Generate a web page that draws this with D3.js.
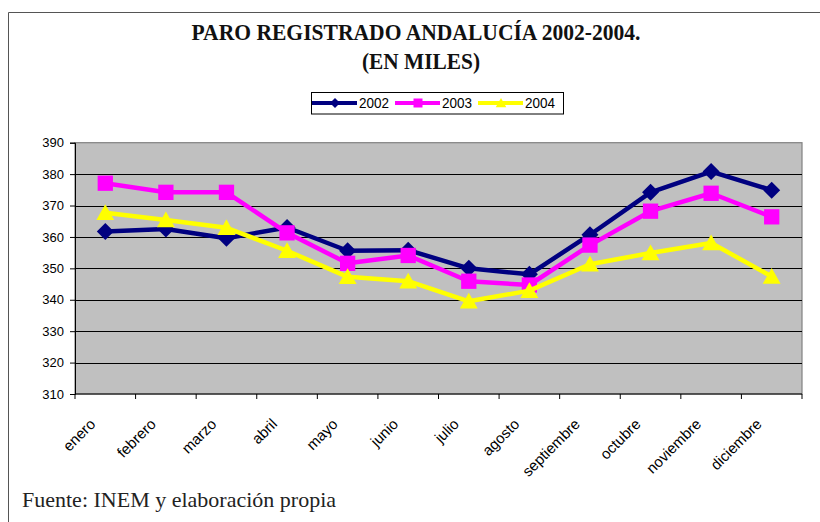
<!DOCTYPE html>
<html>
<head>
<meta charset="utf-8">
<script src="https://cdn.jsdelivr.net/npm/d3@7"></script>
<style>
  body { margin: 0; background: #fff; }
  svg { display: block; }
</style>
</head>
<body>
<div id="chart"></div>
<script>
var width = 820;
var height = 522;

var months = ["enero", "febrero", "marzo", "abril", "mayo", "junio", "julio",
    "agosto", "septiembre", "octubre", "noviembre", "diciembre"];
var years = ["2002", "2003", "2004"];
var paro2002 = [361.7, 362.5, 359.6, 363.0, 355.6, 355.8, 350.0, 348.1, 360.7, 374.2, 380.8, 374.9];
var paro2003 = [377.1, 374.2, 374.2, 361.3, 351.6, 354.1, 345.9, 344.7, 357.4, 368.2, 373.9, 366.4];
var paro2004 = [367.7, 365.4, 362.9, 355.6, 347.3, 345.9, 339.5, 342.9, 351.3, 354.9, 358.1, 347.4];
var yTicks = [310, 320, 330, 340, 350, 360, 370, 380, 390];

var series = [
    { name: years[0], values: paro2002, color: "#000080", shape: "diamond" },
    { name: years[1], values: paro2003, color: "#ff00ff", shape: "square" },
    { name: years[2], values: paro2004, color: "#ffff00", shape: "triangle" }
];

var plot = { left: 75, right: 802, top: 142.7, bottom: 394 };

var svg = d3.select("#chart").append("svg")
    .attr("width", width)
    .attr("height", height);

// outer frame (only top and left visible)
svg.append("path")
    .attr("d", "M8.5," + height + "V12.5H" + width)
    .attr("fill", "none")
    .attr("stroke", "#555")
    .attr("stroke-width", 1);

// titles
svg.append("text")
    .attr("x", 416).attr("y", 40)
    .attr("text-anchor", "middle")
    .attr("font-family", "'Liberation Serif', 'Times New Roman', serif")
    .attr("font-weight", "bold")
    .attr("font-size", 24)
    .attr("textLength", 449)
    .attr("lengthAdjust", "spacingAndGlyphs")
    .attr("fill", "#111")
    .text("PARO REGISTRADO ANDALUCÍA 2002-2004.");

svg.append("text")
    .attr("x", 421).attr("y", 69)
    .attr("text-anchor", "middle")
    .attr("font-family", "'Liberation Serif', 'Times New Roman', serif")
    .attr("font-weight", "bold")
    .attr("font-size", 24)
    .attr("textLength", 118)
    .attr("lengthAdjust", "spacingAndGlyphs")
    .attr("fill", "#111")
    .text("(EN MILES)");

var x = d3.scaleBand()
    .domain(months)
    .range([plot.left, plot.right]);

var y = d3.scaleLinear()
    .domain([310, 390])
    .range([plot.bottom, plot.top]);

function cx(m) { return x(m) + x.bandwidth() / 2; }

// plot background
svg.append("rect")
    .attr("x", plot.left).attr("y", plot.top)
    .attr("width", plot.right - plot.left)
    .attr("height", plot.bottom - plot.top)
    .attr("fill", "#c0c0c0")
    .attr("stroke", "#808080")
    .attr("stroke-width", 1.2);

// gridlines
svg.append("g")
    .selectAll("line")
    .data(yTicks.filter(function(d) { return d > 310 && d < 390; }))
    .join("line")
    .attr("x1", plot.left).attr("x2", plot.right)
    .attr("y1", function(d) { return Math.round(y(d)) + 0.5; })
    .attr("y2", function(d) { return Math.round(y(d)) + 0.5; })
    .attr("stroke", "#000")
    .attr("stroke-width", 1);

// y axis
var yAxis = svg.append("g")
    .attr("transform", "translate(" + plot.left + ",0)")
    .call(d3.axisLeft(y).tickValues(yTicks).tickSize(5).tickPadding(6));
yAxis.select(".domain").attr("stroke", "#000");
yAxis.selectAll("text")
    .attr("font-family", "'Liberation Sans', Arial, sans-serif")
    .attr("font-size", 13)
    .attr("fill", "#000");

// x axis: ticks at category boundaries
var xAxis = svg.append("g")
    .attr("transform", "translate(0," + plot.bottom + ")");
xAxis.append("line")
    .attr("x1", plot.left).attr("x2", plot.right)
    .attr("stroke", "#000");
xAxis.selectAll(".tick")
    .data(months.concat(["end"]))
    .join("line")
    .attr("class", "tick")
    .attr("x1", function(d, i) { return plot.left + i * x.bandwidth(); })
    .attr("x2", function(d, i) { return plot.left + i * x.bandwidth(); })
    .attr("y1", 0).attr("y2", 5)
    .attr("stroke", "#000");
xAxis.selectAll("text")
    .data(months)
    .join("text")
    .attr("transform", function(d) {
        return "translate(" + (cx(d) - 9) + ",31) rotate(-45)";
    })
    .attr("text-anchor", "end")
    .attr("font-family", "'Liberation Sans', Arial, sans-serif")
    .attr("font-size", 15)
    .attr("fill", "#000")
    .text(function(d) { return d; });

// marker shapes
function marker(shape, s) {
    if (shape === "diamond") {
        return "M0," + (-s) + "L" + s + ",0L0," + s + "L" + (-s) + ",0Z";
    }
    if (shape === "square") {
        var h = s * 0.9;
        return "M" + (-h) + "," + (-h) + "H" + h + "V" + h + "H" + (-h) + "Z";
    }
    return "M0," + (-s) + "L" + (s * 1.05) + "," + (s * 0.85) + "H" + (-s * 1.05) + "Z";
}

var line = d3.line()
    .x(function(d, i) { return cx(months[i]); })
    .y(function(d) { return y(d); });

var g = svg.append("g");
series.forEach(function(s) {
    g.append("path")
        .datum(s.values)
        .attr("d", line)
        .attr("fill", "none")
        .attr("stroke", s.color)
        .attr("stroke-width", 4.5)
        .attr("stroke-linejoin", "round");
    g.append("g")
        .selectAll("path")
        .data(s.values)
        .join("path")
        .attr("transform", function(d, i) {
            return "translate(" + cx(months[i]) + "," + y(d) + ")";
        })
        .attr("d", marker(s.shape, 8.5))
        .attr("fill", s.color);
});

// legend
var legend = svg.append("g");
legend.append("rect")
    .attr("x", 311.5).attr("y", 92.5)
    .attr("width", 252).attr("height", 21.5)
    .attr("fill", "#fff")
    .attr("stroke", "#000");
var legendX = [312, 395, 478];
series.forEach(function(s, i) {
    var lx = legendX[i];
    legend.append("line")
        .attr("x1", lx).attr("x2", lx + 45)
        .attr("y1", 103).attr("y2", 103)
        .attr("stroke", s.color)
        .attr("stroke-width", 4);
    legend.append("path")
        .attr("transform", "translate(" + (lx + 23) + ",103)")
        .attr("d", marker(s.shape, 5))
        .attr("fill", s.color);
    legend.append("text")
        .attr("x", lx + 47).attr("y", 108)
        .attr("font-family", "'Liberation Sans', Arial, sans-serif")
        .attr("font-size", 14)
        .attr("textLength", 30)
        .attr("lengthAdjust", "spacingAndGlyphs")
        .attr("fill", "#000")
        .text(s.name);
});

// source note
svg.append("text")
    .attr("x", 22).attr("y", 507)
    .attr("font-family", "'Liberation Serif', 'Times New Roman', serif")
    .attr("font-size", 22)
    .attr("fill", "#222")
    .text("Fuente: INEM y elaboración propia");
</script>
</body>
</html>
